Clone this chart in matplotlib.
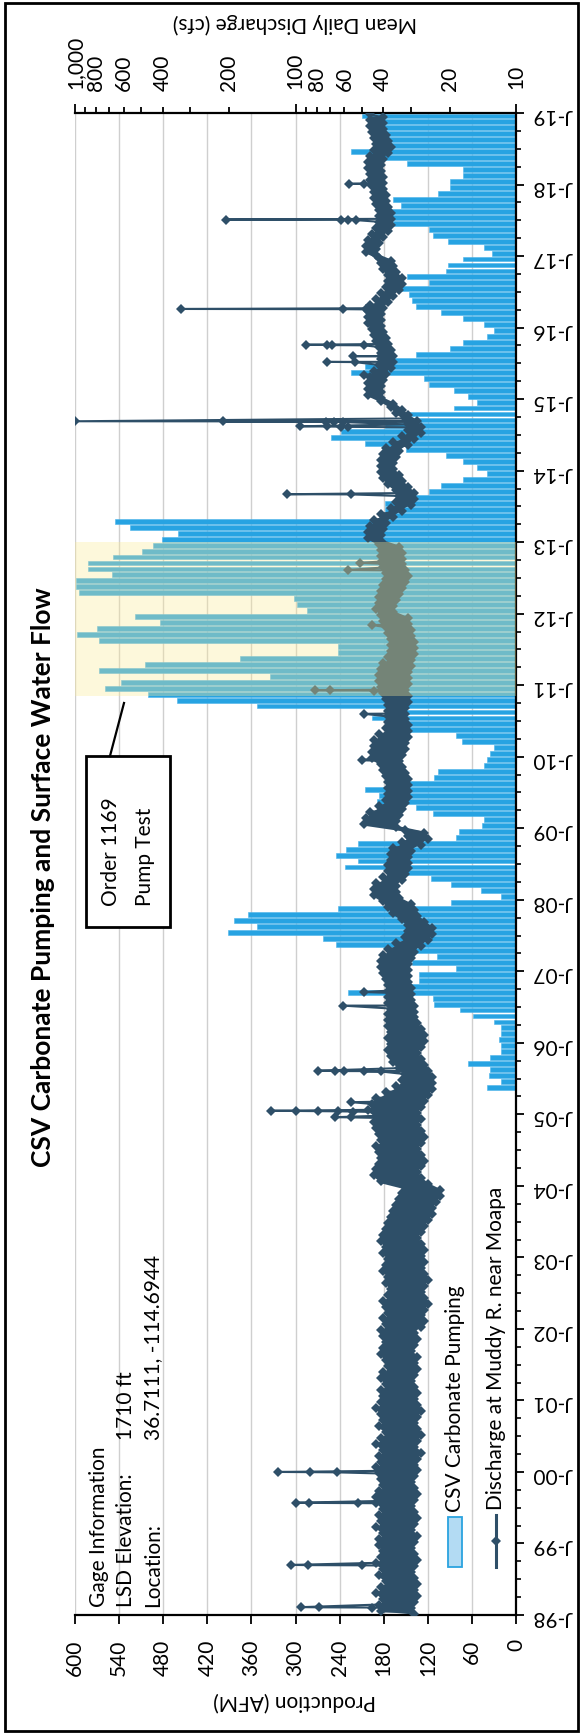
import numpy as np
import matplotlib
matplotlib.use("Agg")
import matplotlib.pyplot as plt
from matplotlib.patches import Rectangle
from matplotlib.lines import Line2D
from matplotlib.ticker import FixedLocator, FixedFormatter

plt.rcParams['font.family'] = ['Lato', 'DejaVu Sans']

W, H = 582, 1735

# ---------------- data ----------------
# Monthly CSV carbonate pumping (acre-feet per month), May 2005 - Dec 2018
pump_start_year, pump_start_month = 2005, 5
pumping_afm = [
    39, 21, 37, 35, 65, 35, 21, 21,                                   # 2005 May-Dec
    23, 21, 21, 30, 58, 76, 111, 113, 228, 159, 132, 132,             # 2006
    81, 141, 108, 141, 245, 263, 392, 353, 383, 365, 242, 88,         # 2007
    21, 48, 88, 115, 155, 233, 215, 245, 231, 215, 81, 78,            # 2008
    46, 44, 113, 136, 189, 187, 205, 148, 111, 106, 44, 39,           # 2009
    35, 30, 74, 81, 150, 159, 196, 164, 353, 461, 500, 559,           # 2010
    537, 335, 568, 505, 375, 242, 242, 568, 597, 570, 484, 518,       # 2011
    284, 298, 302, 595, 598, 598, 550, 582, 582, 548, 509, 494,       # 2012
    482, 460, 525, 545, 180, 178, 178, 145, 118, 102, 72, 39,         # 2013
    53, 72, 95, 150, 205, 252, 238, 178, 150, 145, 85, 53,            # 2014
    65, 85, 118, 125, 224, 205, 168, 136, 90, 72, 39, 30,             # 2015
    44, 72, 102, 136, 141, 145, 168, 118, 148, 95, 92, 72,            # 2016
    32, 44, 92, 113, 118, 168, 178, 178, 157, 168, 106, 90,           # 2017
    90, 72, 72, 148, 180, 224, 178, 185, 185, 187, 187, 210,          # 2018
]

# Mean daily discharge, Muddy River near Moapa (cfs):
# low and high daily readings for each month, Jan 1998 - Dec 2018
flow_start_year = 1998
flow_low = [
    29, 30, 29, 28, 29, 28, 29, 30, 29, 28, 29, 30,   # 1998
    29, 28, 30, 29, 28, 29, 30, 29, 28, 29, 30, 29,   # 1999
    28, 29, 28, 27, 29, 28, 27, 28, 29, 28, 27, 28,   # 2000
    29, 28, 29, 30, 29, 28, 29, 28, 30, 29, 28, 29,   # 2001
    27, 26, 27, 26, 25, 26, 27, 26, 25, 26, 27, 26,   # 2002
    27, 26, 27, 28, 27, 26, 25, 24, 24, 23, 22, 22,   # 2003
    25, 27, 28, 27, 26, 27, 28, 27, 26, 27, 28, 27,   # 2004
    28, 27, 26, 25, 24, 24, 24, 25, 26, 27, 28, 27,   # 2005
    26, 26, 27, 28, 29, 29, 29, 30, 30, 30, 31, 31,   # 2006
    31, 31, 30, 29, 27, 25, 24, 24, 26, 28, 29, 30,   # 2007
    34, 35, 35, 33, 32, 31, 31, 31, 30, 27, 25, 26,   # 2008
    35, 35, 34, 33, 32, 31, 31, 31, 31, 32, 33, 34,   # 2009
    33, 32, 32, 31, 31, 31, 32, 32, 32, 31, 31, 32,   # 2010
    31, 31, 31, 30, 30, 29, 29, 29, 30, 30, 31, 31,   # 2011
    36, 36, 35, 34, 33, 32, 31, 32, 33, 33, 33, 34,   # 2012
    41, 41, 40, 39, 36, 33, 30, 29, 29, 31, 33, 34,   # 2013
    36, 36, 35, 34, 31, 29, 27, 27, 28, 31, 33, 36,   # 2014
    41, 41, 41, 40, 39, 37, 36, 36, 37, 38, 39, 40,   # 2015
    41, 41, 41, 40, 38, 36, 34, 33, 33, 35, 36, 37,   # 2016
    43, 43, 42, 40, 38, 37, 37, 37, 38, 39, 39, 40,   # 2017
    40, 40, 41, 41, 40, 38, 37, 38, 39, 40, 40, 40,   # 2018
]
flow_high = [
    41, 42, 40, 43, 41, 39, 42, 40, 43, 41, 40, 42,   # 1998
    42, 40, 43, 41, 42, 40, 41, 43, 42, 40, 41, 42,   # 1999
    43, 41, 42, 40, 43, 41, 39, 42, 40, 41, 43, 41,   # 2000
    40, 41, 39, 41, 40, 38, 39, 41, 40, 39, 40, 41,   # 2001
    39, 40, 38, 39, 40, 38, 37, 39, 38, 40, 39, 38,   # 2002
    40, 39, 41, 40, 39, 38, 37, 36, 35, 34, 33, 32,   # 2003
    41, 44, 43, 42, 41, 42, 43, 41, 42, 43, 44, 43,   # 2004
    47, 45, 43, 39, 35, 33, 32, 34, 36, 37, 38, 37,   # 2005
    38, 37, 38, 38, 38, 37, 38, 38, 38, 38, 39, 40,   # 2006
    41, 41, 40, 38, 35, 32, 31, 31, 33, 36, 38, 40,   # 2007
    44, 44, 43, 40, 38, 38, 37, 37, 36, 33, 31, 32,   # 2008
    49, 48, 46, 42, 39, 38, 38, 38, 39, 40, 41, 45,   # 2009
    45, 44, 44, 42, 39, 38, 38, 38, 38, 39, 40, 41,   # 2010
    42, 42, 41, 40, 38, 37, 37, 37, 38, 39, 40, 41,   # 2011
    43, 42, 42, 41, 40, 39, 39, 40, 41, 41, 41, 42,   # 2012
    47, 47, 46, 44, 41, 37, 35, 34, 35, 38, 40, 41,   # 2013
    41, 41, 40, 39, 36, 33, 31, 31, 32, 35, 37, 41,   # 2014
    47, 47, 47, 46, 44, 42, 41, 41, 42, 43, 44, 45,   # 2015
    47, 47, 47, 46, 43, 41, 39, 38, 38, 40, 41, 42,   # 2016
    48, 48, 47, 45, 43, 42, 42, 42, 43, 44, 44, 45,   # 2017
    46, 46, 47, 47, 46, 44, 43, 44, 45, 46, 46, 46,   # 2018
]

# Storm events: date (decimal year) and the daily flows of the peak and recession
storm_dates = [1998.11, 1998.70, 1999.57, 2000.00, 2004.96, 2005.05, 2005.17,
               2005.61, 2006.52, 2006.71, 2009.95, 2010.60, 2010.93, 2011.84,
               2012.61, 2012.71, 2013.67, 2014.62, 2014.69, 2015.34, 2015.52,
               2015.60, 2015.76, 2016.26, 2017.51, 2018.01]
storm_flows = [
    [94, 78, 45], [105, 88, 50], [99, 87, 52, 43], [120, 86, 65],
    [66, 56], [129, 99, 79, 64, 55], [56],
    [79, 66, 60, 49, 41], [61], [49], [50], [49], [82, 70, 44], [45],
    [58], [51], [109, 56], [95, 72, 62, 58], [1000, 213, 73, 67, 61], [49], [72, 54],
    [55, 41], [90, 72, 68, 49], [330, 61, 48], [207, 62, 58, 53], [57, 49],
]

# Order 1169 pump test period
test_start, test_end = 2010.85, 2013.0

prod_ticks = [0, 60, 120, 180, 240, 300, 360, 420, 480, 540, 600]
flow_major = [10, 100, 1000]
flow_minor = [20, 30, 40, 50, 60, 70, 80, 90, 200, 300, 400, 500, 600, 700, 800, 900]
flow_minor_labels = ['20', '', '40', '', '60', '', '80', '', '200', '', '400', '', '600', '', '800', '']
year_ticks = list(range(1998, 2020))
year_labels = ["J-%02d" % (y % 100) for y in year_ticks]

# ---------------- helpers (figure pixels) ----------------
def fx(px):
    return px / W

def fy(py):
    return 1 - py / H

BAR = '#27A3E2'
LINE = '#2E4F68'
GRID = '#CFCFCF'

fig = plt.figure(figsize=(W / 100, H / 100), dpi=100)

ax = fig.add_axes([fx(75), fy(1615), (516 - 75) / W, (1615 - 113) / H])
ax2 = ax.twiny()

# pumping bars (horizontal, growing to the left)
n = len(pumping_afm)
months = np.arange(n) + (pump_start_month - 1)
t_bar = pump_start_year + (months + 0.5) / 12.0
ax.barh(t_bar, pumping_afm, height=0.82 / 12, left=0, color=BAR,
        edgecolor='#4DB4EA', linewidth=0.4, zorder=2)

ax.set_xlim(600, 0)
ax.set_ylim(1998, 2019)
ax.set_xticks(prod_ticks)
ax.set_xticklabels([str(v) for v in prod_ticks])
ax.xaxis.grid(True, color=GRID, lw=1.0)
ax.set_axisbelow(True)

ax.yaxis.tick_right()
ax.set_yticks(year_ticks)
ax.set_yticklabels(year_labels)
ax.yaxis.set_minor_locator(FixedLocator([y + q / 4 for y in range(1998, 2019) for q in (1, 2, 3)]))

ax.tick_params(axis='x', which='major', direction='out', length=6.5, width=1.3,
               labelrotation=90, labelsize=15, pad=11)
ax.tick_params(axis='y', which='major', direction='out', length=6, width=1.3,
               labelrotation=180, labelsize=15, pad=6)
ax.tick_params(axis='y', which='minor', direction='out', length=3.5, width=1.2)
for s in ('left', 'top'):
    ax.spines[s].set_visible(False)
for s in ('right', 'bottom'):
    ax.spines[s].set_linewidth(1.6)

# discharge: monthly band between the low and high daily readings
n_flow = len(flow_low)
t_mid = flow_start_year + (np.arange(n_flow) + 0.5) / 12.0
ax2.set_xscale('log')
ax2.set_xlim(1000, 10)
ax2.fill_betweenx(t_mid, flow_low, flow_high, color=LINE, lw=0, zorder=3)

# daily-style trace through the low/high readings with storm peaks inserted
t_flow, q_flow = [], []
for i in range(n_flow):
    base = flow_start_year + i / 12.0
    t_flow += [base + 0.25 / 12, base + 0.75 / 12]
    q_flow += [flow_low[i], flow_high[i]]
for d, vals in zip(storm_dates, storm_flows):
    for k, v in enumerate(vals):
        t_flow.append(d - k / 365.0)
        q_flow.append(v)
order = np.argsort(t_flow)[::-1]
t_flow = np.asarray(t_flow)[order]
q_flow = np.asarray(q_flow)[order]
ax2.plot(q_flow, t_flow, color=LINE, lw=1.5, marker='D', ms=5, mew=0, zorder=3)

ax2.xaxis.set_major_locator(FixedLocator(flow_major))
ax2.xaxis.set_minor_locator(FixedLocator(flow_minor))
ax2.set_xticklabels(['10', '100', '1,000'])
ax2.xaxis.set_minor_formatter(FixedFormatter(flow_minor_labels))
ax2.tick_params(axis='x', which='both', direction='out', labelrotation=90,
                labelsize=15, pad=11, width=1.3)
ax2.tick_params(axis='x', which='major', length=6.5)
ax2.tick_params(axis='x', which='minor', length=4.5)
for s in ('left', 'right', 'bottom'):
    ax2.spines[s].set_visible(False)
ax2.spines['top'].set_linewidth(1.6)

# pump test highlight laid over the plot contents
ax2.axhspan(test_start, test_end, color='#FCEC96', alpha=0.34, lw=0, zorder=5)

# axis titles
fig.text(fx(295), fy(1701), 'Production (AFM)', rotation=180, ha='center',
         va='center', fontsize=15)
fig.text(fx(295), fy(23), 'Mean Daily Discharge (cfs)', rotation=180, ha='center',
         va='center', fontsize=15)

# chart title
fig.text(fx(43), fy(877), 'CSV Carbonate Pumping and Surface Water Flow', rotation=90,
         ha='center', va='center', fontsize=19, fontweight='bold')

# gage information block
for xpx, txt in ((99, 'Gage Information'), (126, 'LSD Elevation:'), (153, 'Location:')):
    fig.text(fx(xpx), fy(1607), txt, rotation=90, rotation_mode='anchor',
             ha='left', va='center', fontsize=15)
fig.text(fx(126), fy(1440), '1710 ft', rotation=90, rotation_mode='anchor',
         ha='left', va='center', fontsize=15)
fig.text(fx(153), fy(1440), '36.7111, -114.6944', rotation=90, rotation_mode='anchor',
         ha='left', va='center', fontsize=15)

# legend entries
fig.add_artist(Rectangle((fx(448), fy(1567)), 14 / W, 50 / H, transform=fig.transFigure,
                         facecolor='#B3DBF3', edgecolor='#2AA3DF', lw=1.3))
fig.text(fx(455), fy(1512), 'CSV Carbonate Pumping', rotation=90, rotation_mode='anchor',
         ha='left', va='center', fontsize=15)
fig.add_artist(Line2D([fx(496), fx(496)], [fy(1567), fy(1515)], transform=fig.transFigure,
                      color=LINE, lw=2.2))
fig.add_artist(Line2D([fx(496)], [fy(1541)], transform=fig.transFigure, color=LINE,
                      marker='D', ms=5, mew=0))
fig.text(fx(496), fy(1510), 'Discharge at Muddy R. near Moapa', rotation=90,
         rotation_mode='anchor', ha='left', va='center', fontsize=15)

# pump test call-out box
fig.add_artist(Rectangle((fx(86), fy(927)), 84 / W, 171 / H, transform=fig.transFigure,
                         facecolor='white', edgecolor='black', lw=2, zorder=6))
fig.text(fx(111), fy(906), 'Order 1169', rotation=90, rotation_mode='anchor',
         ha='left', va='center', fontsize=15, zorder=7)
fig.text(fx(145), fy(906), 'Pump Test', rotation=90, rotation_mode='anchor',
         ha='left', va='center', fontsize=15, zorder=7)
fig.add_artist(Line2D([fx(110), fx(124)], [fy(756), fy(703)], transform=fig.transFigure,
                      color='black', lw=1.6, zorder=6))

# outer frame
fig.add_artist(Rectangle((fx(5), fy(1731)), 573 / W, 1728 / H, transform=fig.transFigure,
                         facecolor='none', edgecolor='black', lw=2))

fig.savefig('out.png', dpi=100)
